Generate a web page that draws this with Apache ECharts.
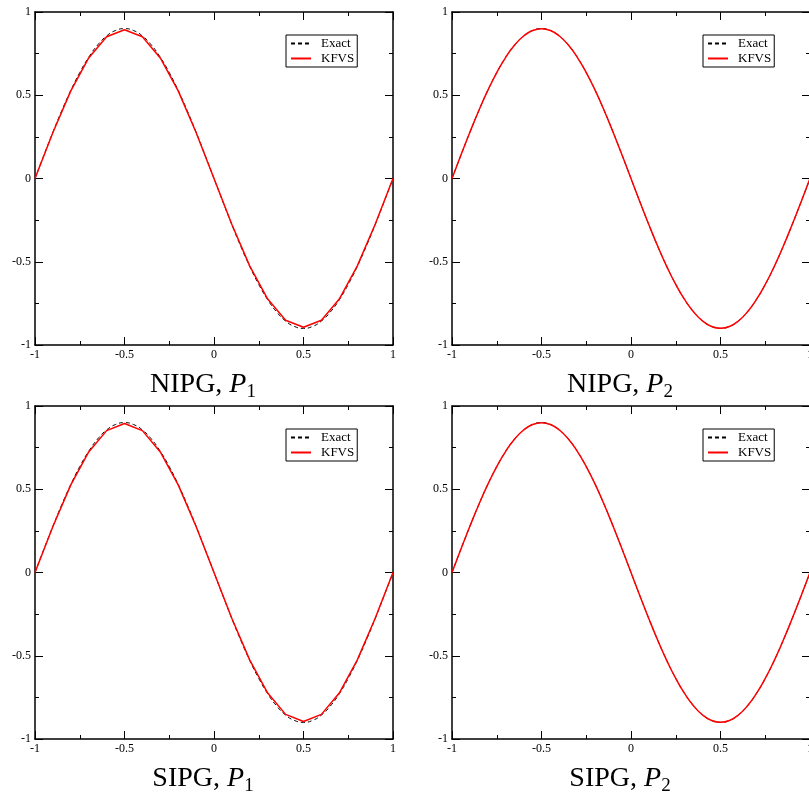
<!DOCTYPE html>
<html>
<head>
<meta charset="utf-8">
<script src="https://cdn.jsdelivr.net/npm/echarts@6/dist/echarts.min.js"></script>
<style>html,body{margin:0;padding:0;background:#fff}#c{width:809px;height:798px}</style>
</head>
<body>
<div id="c"></div>
<script>
// ---- data ----
var xFine = [-1,-0.95,-0.9,-0.85,-0.8,-0.75,-0.7,-0.65,-0.6,-0.55,-0.5,-0.45,-0.4,-0.35,-0.3,-0.25,-0.2,-0.15,-0.1,-0.05,0,
  0.05,0.1,0.15,0.2,0.25,0.3,0.35,0.4,0.45,0.5,0.55,0.6,0.65,0.7,0.75,0.8,0.85,0.9,0.95,1];
var exactY = [0,0.1408,0.2781,0.4086,0.5290,0.6364,0.7281,0.8019,0.8560,0.8889,0.9000,0.8889,0.8560,0.8019,0.7281,0.6364,0.5290,0.4086,0.2781,0.1408,0,
  -0.1408,-0.2781,-0.4086,-0.5290,-0.6364,-0.7281,-0.8019,-0.8560,-0.8889,-0.9000,-0.8889,-0.8560,-0.8019,-0.7281,-0.6364,-0.5290,-0.4086,-0.2781,-0.1408,0];
var kfvsP2Y = [0,0.1407,0.2780,0.4085,0.5289,0.6362,0.7279,0.8017,0.8558,0.8887,0.8998,0.8887,0.8558,0.8017,0.7279,0.6362,0.5289,0.4085,0.2780,0.1407,0,
  -0.1407,-0.2780,-0.4085,-0.5289,-0.6362,-0.7279,-0.8017,-0.8558,-0.8887,-0.8998,-0.8887,-0.8558,-0.8017,-0.7279,-0.6362,-0.5289,-0.4085,-0.2780,-0.1407,0];
var xCoarse = [-1,-0.9,-0.8,-0.7,-0.6,-0.5,-0.4,-0.3,-0.2,-0.1,0,0.1,0.2,0.3,0.4,0.5,0.6,0.7,0.8,0.9,1];
var kfvsP1NIPG = [0,0.276,0.526,0.724,0.851,0.893,0.851,0.724,0.526,0.276,0,-0.276,-0.526,-0.724,-0.851,-0.893,-0.851,-0.724,-0.526,-0.276,0];
var kfvsP1SIPG = [0,0.276,0.526,0.724,0.852,0.895,0.852,0.724,0.526,0.276,0,-0.276,-0.526,-0.724,-0.852,-0.895,-0.852,-0.724,-0.526,-0.276,0];
var panelTitles = [["NIPG, ","1"],["NIPG, ","2"],["SIPG, ","1"],["SIPG, ","2"]];
var seriesNames = ["Exact","KFVS"];

function pairs(xs, ys){ return xs.map(function(x,i){return [x, ys[i]];}); }

var panels = [
  {left:35, top:12, kfvsX:xCoarse, kfvsY:kfvsP1NIPG, smooth:false},
  {left:452, top:12, kfvsX:xFine, kfvsY:kfvsP2Y, smooth:true},
  {left:35, top:406, kfvsX:xCoarse, kfvsY:kfvsP1SIPG, smooth:false},
  {left:452, top:406, kfvsX:xFine, kfvsY:kfvsP2Y, smooth:true}
];
var W = 358, H = 333;
var serif = 'Liberation Serif';
var grids=[], xAxes=[], yAxes=[], series=[], legends=[], graphics=[];

function axisCommon(show){
  return {
    type:'value', min:-1, max:1, interval:0.5,
    axisLine:{show:true, onZero:false, lineStyle:{color:'#000', width:1.5}},
    axisTick:{show:true, inside:true, length:8, lineStyle:{color:'#000', width:1}},
    minorTick:{show:true, splitNumber:2, length:4, lineStyle:{color:'#000', width:1}},
    splitLine:{show:false}, minorSplitLine:{show:false},
    axisLabel:{show:show, color:'#000', fontFamily:serif, fontSize:12}
  };
}

panels.forEach(function(p, i){
  grids.push({left:p.left, top:p.top, width:W, height:H, containLabel:false, outerBoundsMode:'none'});
  var xb = axisCommon(true); xb.gridIndex=i; xb.position='bottom'; xb.axisLabel.margin=4;
  var xt = axisCommon(false); xt.gridIndex=i; xt.position='top';
  var yl = axisCommon(true); yl.gridIndex=i; yl.position='left'; yl.axisLabel.margin=4;
  var yr = axisCommon(false); yr.gridIndex=i; yr.position='right';
  xAxes.push(xb, xt); yAxes.push(yl, yr);
  series.push({
    name:seriesNames[0], type:'line', xAxisIndex:2*i, yAxisIndex:2*i,
    data:pairs(xFine, exactY), smooth:true, symbol:'none', silent:true,
    lineStyle:{color:'#000', width:1, type:[4,3]}, itemStyle:{color:'#000'}, z:2
  });
  series.push({
    name:seriesNames[1], type:'line', xAxisIndex:2*i, yAxisIndex:2*i,
    data:pairs(p.kfvsX, p.kfvsY), smooth:p.smooth, symbol:'none', silent:true,
    lineStyle:{color:'#ff0000', width:1.5}, itemStyle:{color:'#ff0000'}, z:3
  });
  legends.push({
    left:p.left+251, top:p.top+23, orient:'vertical',
    data:seriesNames, itemGap:2, itemWidth:20, itemHeight:14,
    padding:[2,3,2,4], borderColor:'#000', borderWidth:1, backgroundColor:'#fff',
    itemStyle:{color:'rgba(0,0,0,0)', borderWidth:0},
    textStyle:{fontFamily:serif, fontSize:13, color:'#000', padding:[0,0,0,5]},
    selectedMode:false
  });
  var t = panelTitles[i];
  graphics.push({
    type:'text', x:p.left+168, y:p.top+H+40,
    style:{
      text:'{n|'+t[0]+'}{p|P}{s|'+t[1]+'}',
      textAlign:'center', textVerticalAlign:'middle', fill:'#000',
      rich:{
        n:{fontFamily:serif, fontSize:28, lineHeight:34, fill:'#000'},
        p:{fontFamily:serif, fontSize:28, fontStyle:'italic', lineHeight:34, fill:'#000'},
        s:{fontFamily:serif, fontSize:19, lineHeight:18, verticalAlign:'bottom', fill:'#000'}
      }
    }
  });
});

var chart = echarts.init(document.getElementById('c'));
chart.setOption({
  animation:false, backgroundColor:'#fff',
  grid:grids, xAxis:xAxes, yAxis:yAxes, series:series, legend:legends, graphic:graphics
});
</script>
</body>
</html>
